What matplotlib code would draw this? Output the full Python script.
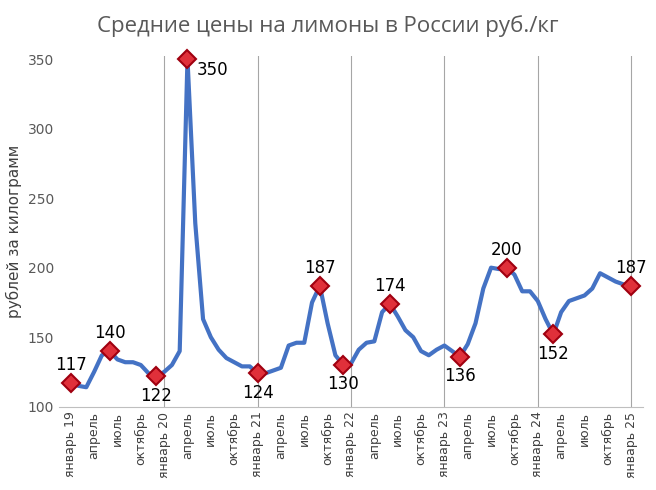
import matplotlib.pyplot as plt
import numpy as np

prices = [117, 115, 114, 125, 137, 140, 134, 132, 132, 130, 124, 122,
          125, 130, 140, 350, 232, 163, 150, 141, 135, 132, 129, 129,
          124, 124, 126, 128, 144, 146, 146, 175, 187, 160, 137, 130,
          131, 141, 146, 147, 168, 174, 165, 155, 150, 140, 137, 141,
          144, 140, 136, 145, 160, 185, 200, 199, 200, 195, 183, 183,
          176, 163, 152, 168, 176, 178, 180, 185, 196, 193, 190, 188, 187]
marked = [0, 5, 11, 15, 24, 32, 35, 41, 50, 56, 62, 72]
tick_labels = []
for y in range(19, 26):
    tick_labels += [f"январь {y}", "апрель", "июль", "октябрь"]
tick_labels = tick_labels[:25]

fig, ax = plt.subplots(figsize=(6.56, 4.9), dpi=100)
x = np.arange(len(prices))
ax.plot(x, prices, color="#4472C4", lw=3, zorder=2)
for i in marked:
    ax.plot(i, prices[i], marker="D", ms=9, color="#E0303A", mec="#A00010", mew=1.5, zorder=3,
            clip_on=False)
    if i == 15:
        ax.text(i + 1.2, prices[i] - 8, str(prices[i]), ha="left", va="center", fontsize=12, zorder=4)
        continue
    dy = 13 if i not in (11, 24, 35, 50, 62) else -14
    ax.text(i, prices[i] + dy, str(prices[i]), ha="center", va="center", fontsize=12, zorder=4)

ax.set_xlim(-1.5, 73.5)
ax.set_ylim(100, 352)
ax.set_yticks(range(100, 351, 50))
ax.set_xticks(range(0, 73, 3))
ax.set_xticklabels(tick_labels, rotation=90, fontsize=9)
for j in range(12, 73, 12):
    ax.axvline(j, color="#A6A6A6", lw=0.8, zorder=1)
for s in ["top", "right", "left"]:
    ax.spines[s].set_visible(False)
ax.spines["bottom"].set_color("#BFBFBF")
ax.tick_params(axis="y", length=0, labelsize=10, colors="#595959")
ax.tick_params(axis="x", length=0, colors="#404040")
ax.set_ylabel("рублей за килограмм", fontsize=11, color="#404040")
fig.suptitle("Средние цены на лимоны в России руб./кг", fontsize=16, color="#595959",
             y=0.97, fontfamily="Open Sans")
fig.subplots_adjust(left=0.09, right=0.98, top=0.885, bottom=0.17)
fig.savefig("out.png")
